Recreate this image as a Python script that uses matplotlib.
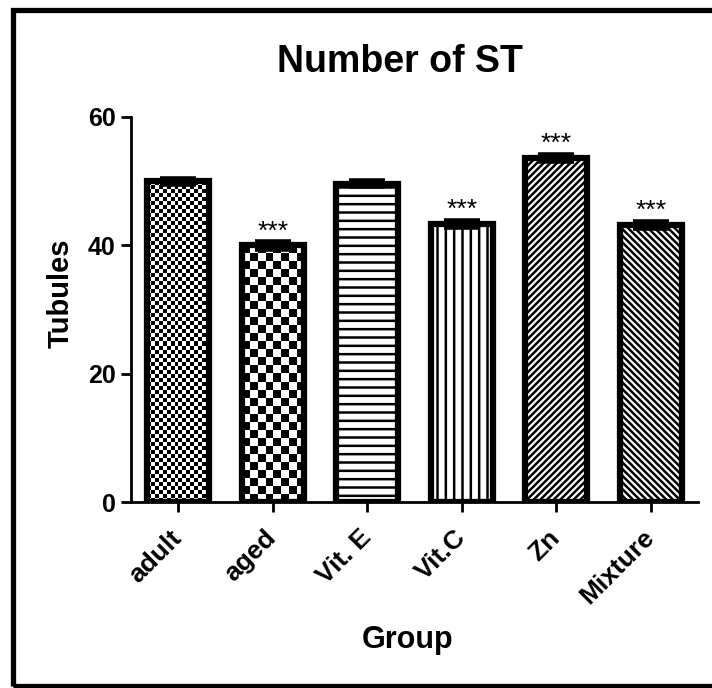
import numpy as np
import matplotlib
matplotlib.use('Agg')
import matplotlib.pyplot as plt
from matplotlib.patches import Rectangle

# --- Data
groups = ['adult', 'aged', 'Vit. E', 'Vit.C', 'Zn', 'Mixture']
means = [50.0, 40.0, 49.6, 43.3, 53.6, 43.2]
sems = [0.4, 0.5, 0.4, 0.5, 0.5, 0.5]
stars = ['', '***', '', '***', '***', '***']
yticks = [0, 20, 40, 60]

# fill style per bar: ('checker', cell px) or ('hatch', pattern)
fills = [('checker', 4), ('checker', 8), ('hatch', '--'),
         ('hatch', '||'), ('hatch', '/////'), ('hatch', '\\\\\\\\\\')]

plt.rcParams['font.family'] = ['Liberation Sans', 'DejaVu Sans']
plt.rcParams['font.weight'] = 'bold'
plt.rcParams['hatch.linewidth'] = 1.8

W, H = 712, 688
fig = plt.figure(figsize=(W / 100, H / 100), dpi=100)
ax = fig.add_axes([131 / W, 1 - 502 / H, (698 - 131) / W, (502 - 117) / H])
ax.set_xlim(-0.5, len(groups) - 0.5)
ax.set_ylim(0, 60)

x = np.arange(len(groups))
width = 0.66
bars = ax.bar(x, means, width=width, facecolor='white', edgecolor='black',
              linewidth=4.5, zorder=2)

for b, (kind, val) in zip(bars, fills):
    if kind == 'hatch':
        b.set_hatch(val)
        continue
    b.set_facecolor('none')
    # checkerboard texture clipped to the bar
    x0, y0 = b.get_x(), b.get_y()
    w, h = b.get_width(), b.get_height()
    (px0, py0), (px1, py1) = ax.transData.transform([(x0, y0), (x0 + w, y0 + h)])
    nc = max(1, int(round((px1 - px0) / val)))
    nr = max(1, int(round((py1 - py0) / val)))
    ii, jj = np.indices((nr, nc))
    tex = (ii + jj) % 2
    im = ax.imshow(tex, extent=[x0, x0 + w, y0, y0 + h], cmap='gray',
                   interpolation='nearest', aspect='auto', zorder=1)
    im.set_clip_path(b)

ax.errorbar(x, means, yerr=sems, fmt='none', ecolor='black', elinewidth=3,
            capsize=13, capthick=4, zorder=3)

for xi, m, s, st in zip(x, means, sems, stars):
    if st:
        ax.annotate(st, (xi, m + s), xytext=(0, -1), textcoords='offset points',
                    ha='center', va='bottom', fontsize=19, fontweight='normal',
                    zorder=4)

ax.set_aspect('auto')
for side in ['top', 'right']:
    ax.spines[side].set_visible(False)
for side in ['left', 'bottom']:
    ax.spines[side].set_linewidth(2)

ax.set_yticks(yticks)
ax.set_xticks(x)
ax.set_xticklabels(groups, rotation=45, ha='right', va='center',
                   rotation_mode='anchor')
ax.tick_params(axis='both', length=7, width=2, labelsize=18, pad=4)
ax.tick_params(axis='x', pad=16, labelsize=19)

fig.text(400 / W, 1 - 72 / H, 'Number of ST', ha='center', va='baseline',
         fontsize=27, fontweight='bold')
fig.text(61 / W, 1 - 293 / H, 'Tubules', ha='center', va='center',
         rotation=90, fontsize=21, fontweight='bold')
fig.text(408 / W, 1 - 648 / H, 'Group', ha='center', va='baseline',
         fontsize=22, fontweight='bold')

# outer frame of the figure image
fig.patches.append(Rectangle((12.5 / W, 1 - 685.5 / H), 1.0, (685.5 - 9.5) / H,
                             transform=fig.transFigure, fill=False,
                             edgecolor='black', linewidth=3.8, clip_on=False))

fig.savefig('out.png', dpi=100)
